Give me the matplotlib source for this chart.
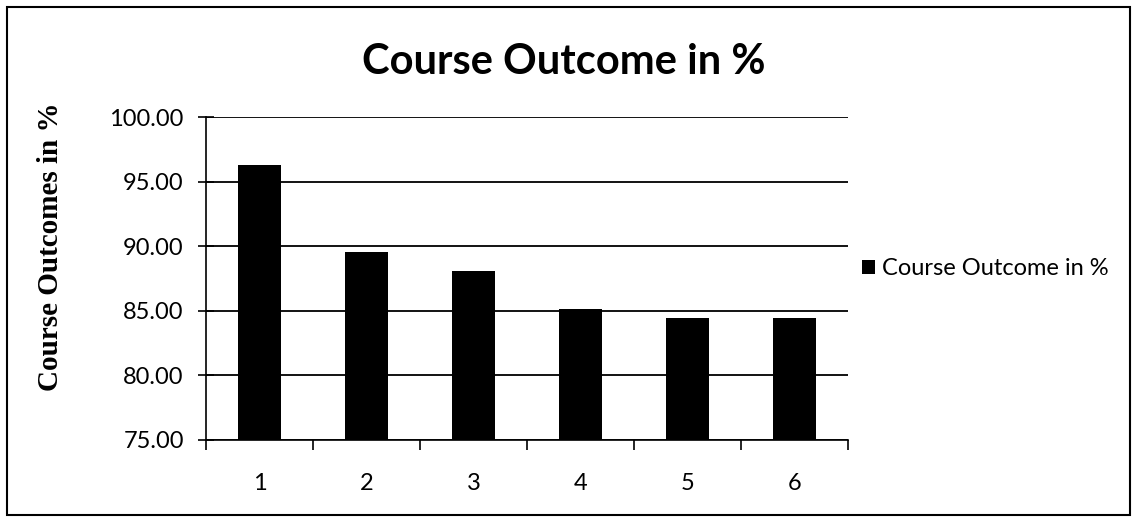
import matplotlib
matplotlib.use("Agg")
import matplotlib.pyplot as plt
from matplotlib.patches import Rectangle
from matplotlib.ticker import FixedLocator

categories = ["1", "2", "3", "4", "5", "6"]
values = [96.28, 89.56, 88.09, 85.12, 84.42, 84.45]
series_name = "Course Outcome in %"
yticks = [75, 80, 85, 90, 95, 100]

fig = plt.figure(figsize=(11.37, 5.22), dpi=100)
fig.patches.append(Rectangle((7/1137, 7/522), 1123/1137, 508/522, transform=fig.transFigure,
                             fill=False, edgecolor="black", linewidth=1.5))
ax = fig.add_axes([206/1137, 82/522, 642/1137, 323/522])
x = list(range(len(categories)))
ax.bar(x, values, width=0.4, color="black", label=series_name, zorder=3)
ax.set_xlim(-0.5, len(categories) - 0.5)
ax.set_ylim(75, 100)
ax.set_yticks(yticks)
ax.set_yticklabels([f"{v:.2f}" for v in yticks], fontfamily="Lato", fontsize=17)
ax.set_xticks(x)
ax.set_xticklabels(categories, fontfamily="Lato", fontsize=17)
ax.tick_params(axis="x", length=0, pad=24)
ax.xaxis.set_minor_locator(FixedLocator([i - 0.5 for i in range(len(categories) + 1)]))
ax.tick_params(axis="x", which="minor", length=7, direction="out", width=1.2)
ax.tick_params(axis="y", length=12, direction="inout", width=1.2, pad=10)
ax.grid(axis="y", color="black", linewidth=1.3, zorder=0)
for s in ["top", "right"]:
    ax.spines[s].set_visible(False)
for s in ["left", "bottom"]:
    ax.spines[s].set_linewidth(1.2)
ax.set_ylabel("Course Outcomes in %", fontfamily="Liberation Serif", fontweight="bold",
              fontsize=21)
ax.yaxis.set_label_coords(-142/642, 0.6)
fig.text(564/1137, 1 - 62/522, "Course Outcome in %", ha="center", va="center",
         fontfamily="Lato", fontweight="bold", fontsize=30)
leg = ax.legend(loc="center left", bbox_to_anchor=(1.0, 0.53), frameon=False,
                prop={"family": "Lato", "size": 17}, handlelength=0.55, handleheight=0.55,
                handletextpad=0.3, borderaxespad=0.2)
fig.savefig("out.png", dpi=100)
